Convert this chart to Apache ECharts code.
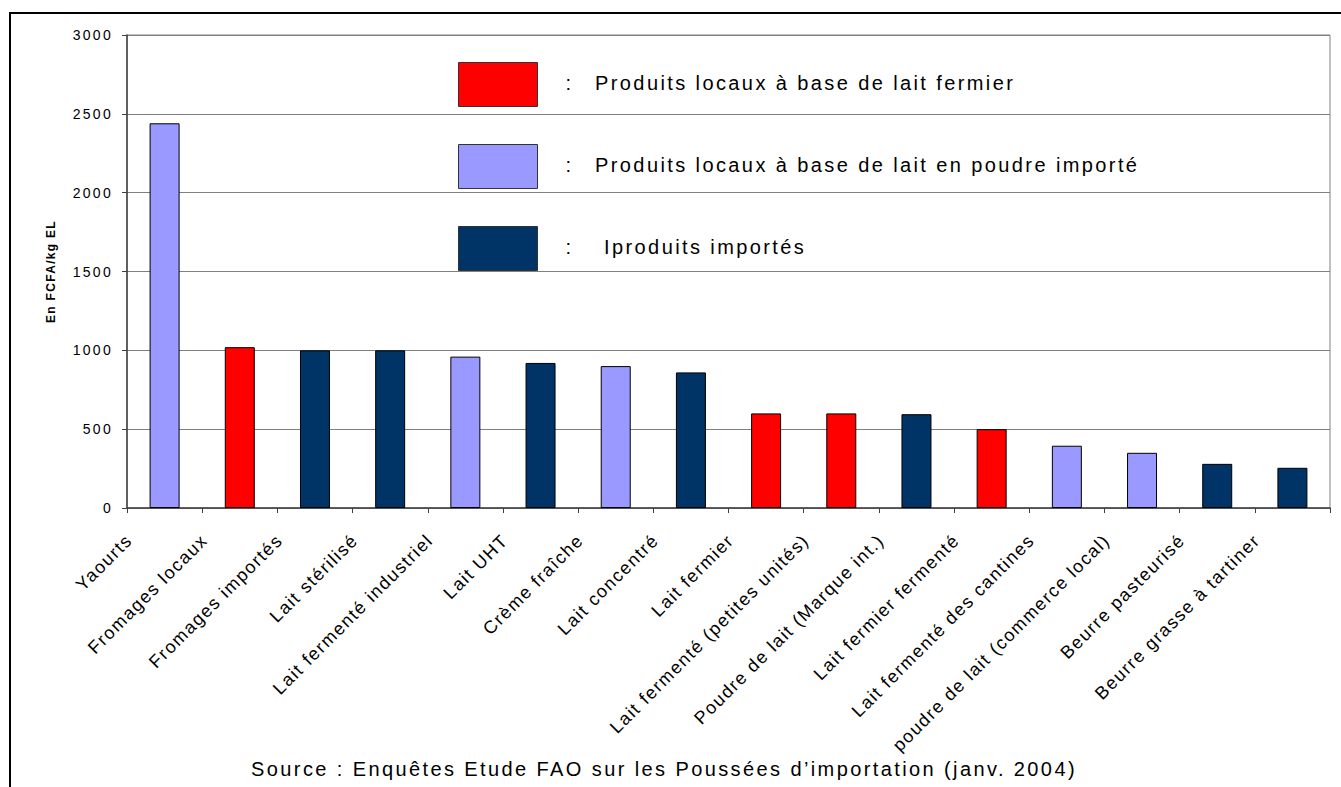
<!DOCTYPE html>
<html>
<head>
<meta charset="utf-8">
<script src="https://cdn.jsdelivr.net/npm/echarts@6/dist/echarts.min.js"></script>
<style>
html,body{margin:0;padding:0;background:#fff;}
#main{width:1341px;height:787px;}
/* letter spacing of the original document's text, by text size */
#main text[style*="14px"]{letter-spacing:2.3px;}
#main text[style*="18px"]{letter-spacing:1.5px;}
#main text[style*="20px"]{letter-spacing:2.4px;}
#main text[style*="12px"]{letter-spacing:1.3px;}
</style>
</head>
<body>
<div id="main"></div>
<script>
// ---- data ----
const categories = [
  "Yaourts", "Fromages locaux", "Fromages importés", "Lait stérilisé",
  "Lait fermenté industriel", "Lait UHT", "Crème fraîche", "Lait concentré",
  "Lait fermier", "Lait fermenté (petites unités)", "Poudre de lait (Marque int.)",
  "Lait fermier fermenté", "Lait fermenté des cantines", "poudre de lait (commerce local)",
  "Beurre pasteurisé", "Beurre grasse à tartiner"
];
const values = [2440, 1020, 1000, 1000, 960, 920, 900, 860, 600, 600, 595, 500, 395, 350, 280, 255];
// 0 = lait fermier local, 1 = lait en poudre importé, 2 = produits importés
const groupOf = [1, 0, 2, 2, 1, 2, 1, 2, 0, 0, 2, 0, 1, 1, 2, 2];
const groupNames = [
  "Produits locaux à base de lait fermier",
  "Produits locaux à base de lait en poudre importé",
  "Iproduits importés"
];
const yTicks = [0, 500, 1000, 1500, 2000, 2500, 3000];
const yAxisName = "En FCFA/kg EL";
const sourceText = "Source : Enquêtes Etude FAO sur les Poussées d\u2019importation (janv. 2004)";

// ---- chart ----
const colors = ["#FF0000", "#9999FF", "#003366"];
const FONT = "'Liberation Sans', Arial, sans-serif";

const series = groupNames.map((name, g) => ({
  name: name,
  type: "bar",
  stack: "all",
  barWidth: 30,
  data: values.map((v, i) => groupOf[i] === g ? v : "-"),
  itemStyle: { color: colors[g], borderColor: "#000", borderWidth: 1 }
}));

const chart = echarts.init(document.getElementById("main"), null, { renderer: "svg" });
chart.setOption({
  animation: false,
  textStyle: { fontFamily: FONT },
  title: {
    text: sourceText,
    left: 664, top: 759, textAlign: "center", padding: 0,
    textStyle: { fontFamily: FONT, fontSize: 20, fontWeight: "normal", color: "#000" }
  },
  graphic: [{
    type: "rect", silent: true,
    shape: { x: 10, y: 13, width: 1400, height: 900 },
    style: { fill: "none", stroke: "#000", lineWidth: 2 }
  }],
  legend: {
    orient: "vertical", left: 458, top: 62, padding: 0,
    itemWidth: 79, itemHeight: 44, itemGap: 37,
    selectedMode: false,
    icon: "rect",
    itemStyle: { borderColor: "#333", borderWidth: 1 },
    formatter: n => (n === groupNames[2] ? "{c2|:}" : "{c|:}") + "{t|" + n + "}",
    textStyle: {
      rich: {
        c: { fontFamily: FONT, fontSize: 20, color: "#000", padding: [0, 24, 4, 23] },
        c2: { fontFamily: FONT, fontSize: 20, color: "#000", padding: [0, 33, 4, 23] },
        t: { fontFamily: FONT, fontSize: 20, color: "#000", padding: [0, 0, 4, 0] }
      }
    }
  },
  grid: {
    left: 127, right: 11, top: 35, bottom: 279,
    show: true, borderColor: "#808080", borderWidth: 1, backgroundColor: "transparent"
  },
  xAxis: {
    type: "category",
    data: categories,
    axisLine: { lineStyle: { color: "#404040", width: 1.5 } },
    axisTick: { show: true, length: 5, lineStyle: { color: "#404040" } },
    axisLabel: {
      interval: 0, rotate: 45, margin: -6,
      fontFamily: FONT, fontSize: 18, color: "#000",
      padding: [0, 50, 0, 0]
    }
  },
  yAxis: {
    type: "value", min: yTicks[0], max: yTicks[yTicks.length - 1], interval: 500,
    name: yAxisName, nameLocation: "middle", nameGap: 70,
    nameTextStyle: { fontFamily: FONT, fontSize: 12, fontWeight: "bold", color: "#000" },
    axisLine: { show: true, lineStyle: { color: "#404040", width: 1.5 } },
    axisTick: { show: true, length: 5, lineStyle: { color: "#404040" } },
    axisLabel: { fontFamily: FONT, fontSize: 14, color: "#000", margin: 14, formatter: v => String(v) },
    splitLine: { lineStyle: { color: "#808080", width: 1 } }
  },
  series: series
});
</script>
</body>
</html>
